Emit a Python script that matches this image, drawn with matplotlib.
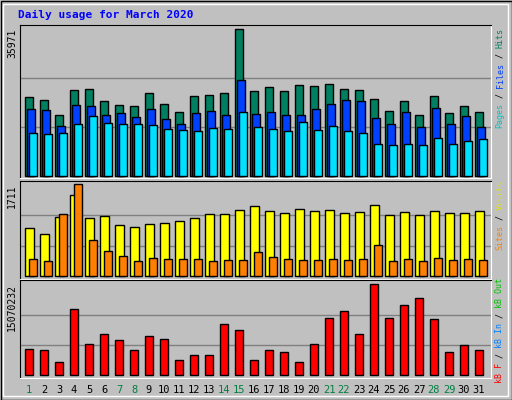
import matplotlib
matplotlib.use("Agg")
import matplotlib.pyplot as plt
from matplotlib.patches import Rectangle

days = list(range(1, 32))
weekend = [1, 7, 8, 14, 15, 21, 22, 28, 29]
hits = [19293,18557,14879,21010,21255,18312,17331,17086,20274,17576,15614,19538,19784,20274,35971,20765,
        21746,20765,22236,21991,22481,21255,21010,18803,15860,18312,14879,19538,15369,17086,15614]
files = [16350,16105,12344,17331,17086,14879,15369,14388,16350,13898,12671,15369,15860,14879,23462,15124,
         15614,14879,14879,16350,17576,18557,18312,14143,12671,15614,11936,16595,12671,14633,11936]
pages = [10464,10219,10464,12671,14633,12917,12671,12671,12426,11445,11200,10955,11690,11445,15614,11936,
         11445,10955,13162,11200,12181,10955,10464,7766,7521,7766,7521,9238,7766,8502,8993]
visits = [893,781,1097,1507,1079,1116,949,911,967,986,1023,1079,1153,1153,1228,1302,1209,1172,1246,1209,
          1228,1172,1190,1321,1135,1190,1135,1209,1172,1172,1209]
sites = [316,279,1153,1711,670,465,372,279,335,316,316,316,279,298,298,446,353,316,298,298,316,298,316,
         577,279,316,279,335,298,316,298]
kbytes = [4.36e6,4.20e6,2.15e6,10.93e6,5.13e6,6.79e6,5.80e6,4.20e6,6.46e6,5.96e6,2.48e6,3.31e6,3.31e6,
          8.45e6,7.45e6,2.48e6,4.20e6,3.81e6,2.15e6,5.13e6,9.44e6,10.60e6,6.79e6,15070232,9.44e6,11.59e6,
          12.75e6,9.27e6,3.81e6,4.97e6,4.20e6]

W, H = 512, 400
fig = plt.figure(figsize=(5.12, 4.0), dpi=100, facecolor="#C0C0C0")
mono = "DejaVu Sans Mono"

def fx(px): return px / W
def fy(py): return 1 - py / H

fig.add_artist(Rectangle((fx(0.5), fy(399.5)), fx(511), 399/H, transform=fig.transFigure, fill=False, ec="black", lw=1))
fig.add_artist(Rectangle((fx(3), fy(396)), fx(505), 392/H, transform=fig.transFigure, fill=False, ec="white", lw=1))

fig.text(fx(18), fy(15), "Daily usage for March 2020", color="#0000FF", fontsize=8, fontweight="bold",
         family=mono, va="center", ha="left")

panels = [(24.7, 178, -490, 37100, 35971), (180.7, 279, -50, 1778, 1711), (280.3, 378, -447000, 15.73e6, 15070232)]
x0, x1 = 20, 491
axes = []
for top, bot, ymin, ymax, mx in panels:
    ax = fig.add_axes([fx(x0), fy(bot), fx(x1 - x0), (bot - top) / H])
    ax.set_facecolor("#C0C0C0")
    ax.set_xlim(1 - 1/3, 1 - 1/3 + (x1 - x0) / 15)
    ax.set_ylim(ymin, ymax)
    ax.set_xticks([]); ax.set_yticks([])
    for s in ["left", "top"]:
        ax.spines[s].set_color("black")
    for s in ["right", "bottom"]:
        ax.spines[s].set_color("white")
    for frac in (1/3, 2/3):
        ax.axhline(mx * frac, color="#808080", lw=1, zorder=0)
    fig.text(fx(12), fy(top + 4), f"{mx}", rotation=90, ha="center", va="top", fontsize=7, family=mono)
    axes.append(ax)

w = 8 / 15
kw = dict(align="edge", edgecolor="black", linewidth=1)
a = axes[0]
a.bar(days, hits, w, color="#008060", **kw)
a.bar([d + 2/15 for d in days], files, w, color="#0040FF", **kw)
a.bar([d + 4/15 for d in days], pages, w, color="#00E0FF", **kw)
a = axes[1]
a.bar(days, visits, 9/15, color="#FFFF00", **kw)
a.bar([d + 4/15 for d in days], sites, 8/15, color="#FF8000", **kw)
a = axes[2]
a.bar(days, kbytes, w, color="#FF0000", **kw)

for d in days:
    fig.text(fx(20 + (d - 1) * 15 + 9), fy(390), str(d), ha="center", va="center",
             fontsize=7.5, family=mono, color="#008040" if d in weekend else "black")

ADV = 5.02
def side(bottom_px, parts):
    cur = bottom_px
    for txt, col in parts:
        fig.text(fx(500), fy(cur), txt, rotation=90, ha="center", va="bottom", fontsize=6,
                 family=mono, color=col, rotation_mode="anchor" if False else "default")
        cur -= len(txt) * ADV

side(128, [("Pages", "#00C0C0"), (" / ", "black"), ("Files", "#0040FF"), (" / ", "black"), ("Hits", "#008060")])
side(250, [("Sites", "#FF8000"), (" / ", "black"), ("Visits", "#E0E000")])
side(383, [("kB F", "#FF0000"), (" / ", "black"), ("kB In", "#0080FF"), (" / ", "black"), ("kB Out", "#00C000")])

fig.savefig("out.png", dpi=100, facecolor=fig.get_facecolor())
